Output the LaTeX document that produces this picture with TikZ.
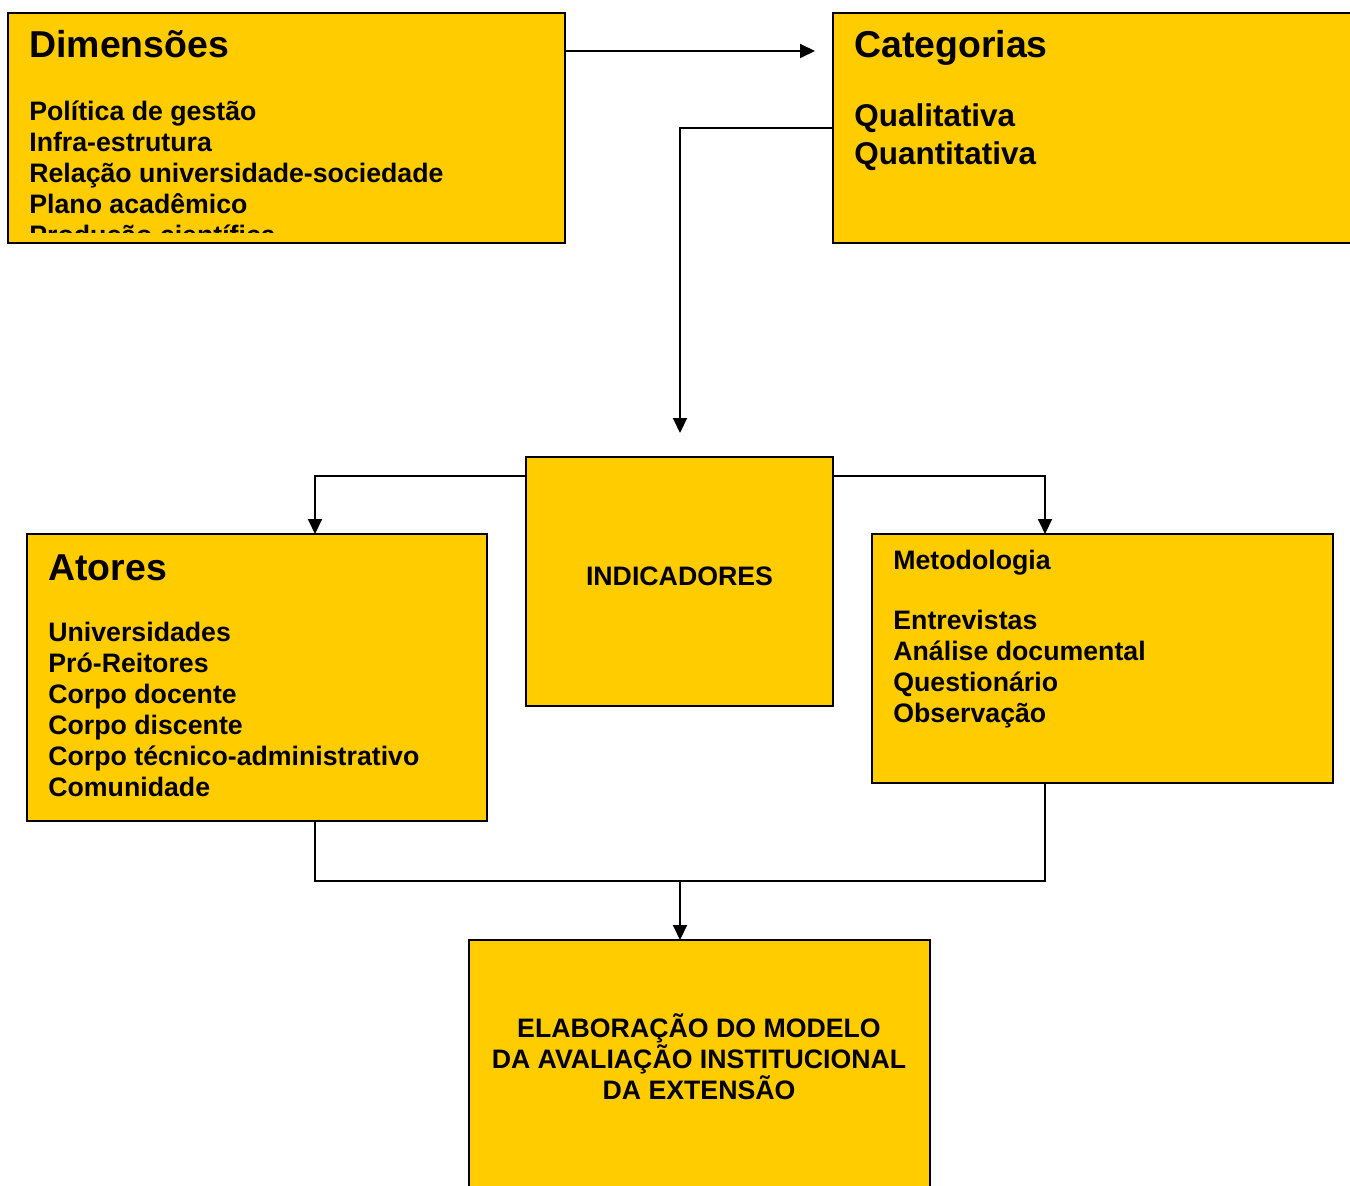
\documentclass[tikz,border=0pt]{standalone}
\usepackage{fontspec}
\setmainfont{Liberation Sans}
\usepackage{tikz}
\usepackage{xcolor}
\usetikzlibrary{arrows.meta,positioning,calc}
\definecolor{boxfill}{HTML}{FFCC00}
\definecolor{ink}{HTML}{000000}
\tikzset{
  panel/.style={draw=ink,fill=boxfill,line width=1.2pt,anchor=north west,
                inner sep=0pt,outer sep=0pt},
  headtxt/.style={anchor=base west,inner sep=0pt,
                  font=\fontsize{21.3}{25}\selectfont\bfseries},
  listtxt/.style={anchor=base west,inner sep=0pt,align=left,
                  font=\fontsize{15.2}{17.6}\selectfont\bfseries},
  bigtxt/.style={anchor=base west,inner sep=0pt,align=left,
                 font=\fontsize{17.9}{21.5}\selectfont\bfseries},
  captxt/.style={anchor=base,inner sep=0pt,align=center,
                 font=\fontsize{15.2}{17.6}\selectfont\bfseries},
  link/.style={line width=1.1pt,draw=ink},
  arr/.style={-{Triangle[length=3mm,width=2.8mm]},line width=1.1pt,draw=ink}
}
\begin{document}
\begin{tikzpicture}[x=1cm,y=1cm]
    \path[use as bounding box,fill=white] (0,0) rectangle (27,-23.7);
    % boxes
    \node[panel,minimum width=11.14cm,minimum height=4.60cm] (dim) at (0.16,-0.26) {};
    \node[panel,minimum width=10.80cm,minimum height=4.60cm] (cat) at (16.66,-0.26) {};
    \node[panel,minimum width=6.14cm,minimum height=4.98cm] (ind) at (10.52,-9.14) {};
    \node[panel,minimum width=9.20cm,minimum height=5.74cm] (ato) at (0.54,-10.68) {};
    \node[panel,minimum width=9.22cm,minimum height=4.98cm] (met) at (17.44,-10.68) {};
    \node[panel,minimum width=9.22cm,minimum height=5.40cm] (ela) at (9.38,-18.80) {};

    % texts (multi-line nodes sit on their last baseline)
    \node[headtxt] (dimhead) at (0.58,-1.16) {Dimensões};
    \begin{scope}
      \clip (0.2,-2.0) rectangle (11.2,-4.64);
      \node[listtxt] (dimlist) at (0.58,-4.88)
        {Política de gestão\\Infra-estrutura\\Relação universidade-sociedade\\
         Plano acadêmico\\Produção científica};
    \end{scope}
    \node[headtxt] (cathead) at (17.08,-1.16) {Categorias};
    \node[bigtxt] (catlist) at (17.08,-3.28) {Qualitativa\\Quantitativa};
    \node[captxt] (indtxt) at (13.59,-11.70) {INDICADORES};
    \node[headtxt] (atohead) at (0.96,-11.60) {Atores};
    \node[listtxt] (atolist) at (0.96,-15.93)
      {Universidades\\Pró-Reitores\\Corpo docente\\Corpo discente\\
       Corpo técnico-administrativo\\Comunidade};
    \node[listtxt] (methead) at (17.86,-11.38) {Metodologia};
    \node[listtxt] (metlist) at (17.86,-14.44)
      {Entrevistas\\Análise documental\\Questionário\\Observação};
    \node[captxt] (elatxt) at (13.98,-21.99)
      {ELABORAÇÃO DO MODELO\\DA AVALIAÇÃO INSTITUCIONAL\\DA EXTENSÃO};

    % connectors
    \coordinate (catin) at (16.30,-1.02);
    \coordinate (indin) at (13.60,-8.66);
    \coordinate (lsplit) at (6.30,-9.52);
    \coordinate (rsplit) at (20.90,-9.52);
    \coordinate (join) at (13.60,-17.62);
    \draw[arr] (dim.east |- catin) -- (catin);
    \draw[arr] (cat.west) -| (indin);
    \draw[arr] (ind.west |- lsplit) -| (ato.north -| lsplit);
    \draw[arr] (ind.east |- rsplit) -| (met.north -| rsplit);
    \draw[link] (ato.south -| lsplit) |- (join) -| (met.south -| rsplit);
    \draw[arr] (join) -- (ela.north -| join);
  \end{tikzpicture}
\end{document}
